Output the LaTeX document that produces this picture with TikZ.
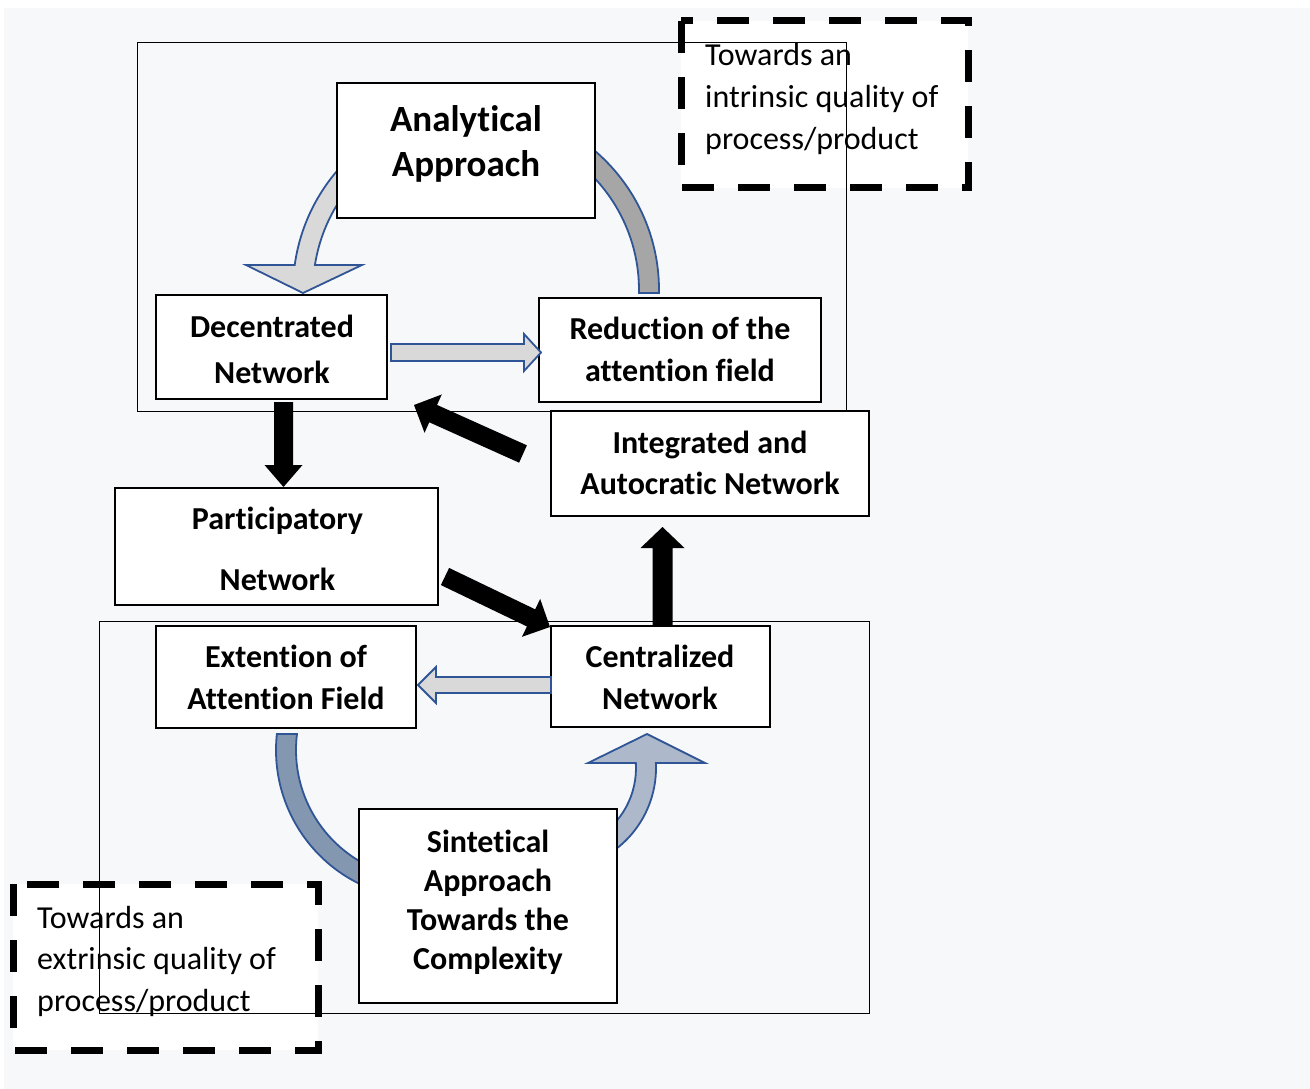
\documentclass[tikz,border=0pt]{standalone}
\usepackage{fontspec}
\setmainfont{Carlito}[Ligatures=NoCommon]
\usetikzlibrary{calc}

\definecolor{panel}{HTML}{F7F8FA}
\definecolor{ablue}{HTML}{2F5597}
\definecolor{lgray}{HTML}{D9D9D9}
\definecolor{mgray}{HTML}{A6A6A6}
\definecolor{slate}{HTML}{8497B0}
\definecolor{lslate}{HTML}{ADB9CA}

% straight block arrow: style, tail point, tip point, shaft half width, head half width, head length
\newcommand\blockarrow[6]{%
  \path[#1] let \p1=#2, \p2=#3,
      \n1={atan2(\y2-\y1,\x2-\x1)}, \n2={veclen(\x2-\x1,\y2-\y1)} in
    ($(\p1)+(\n1+90:#4)$) -- ++(\n1:\n2-#6) -- ++(\n1+90:#5-#4) -- (\p2)
    -- ($(\p1)+(\n1:\n2-#6)+(\n1-90:#5)$) -- ++(\n1+90:#5-#4)
    -- ($(\p1)+(\n1-90:#4)$) -- cycle;}

\begin{document}
\begin{tikzpicture}[x=1pt,y=1pt,
  box/.style={draw=black, line width=2pt, fill=white, inner sep=0pt},
  lbl/.style={align=center, inner sep=0pt, font=\bfseries\fontsize{32}{42}\selectfont},
  dtext/.style={align=left, inner sep=0pt, anchor=north west, font=\fontsize{32}{42}\selectfont},
  dashbox/.style={draw=black, fill=white, line width=7pt, dash pattern=on 32pt off 24pt},
  frame/.style={draw=black, line width=1pt},
  curved/.style={draw=ablue, line width=1.8pt, line join=miter},
  gblk/.style={fill=lgray, draw=ablue, line width=1.8pt, line join=miter},
  blk/.style={fill=black}]

% page and panel
\fill[white] (0,0) rectangle (1310,-1089);
\useasboundingbox (0,0) rectangle (1310,-1089);
\fill[panel] (4,-8) rectangle (1310,-1089);

% dashed quality boxes
\draw[dashbox] (681,-21) rectangle (968,-188);
\node[dtext] (intr) at (705,-43) {Towards an\\intrinsic quality of\\process/product};
\draw[dashbox] (13,-884) rectangle (318,-1050);
\node[dtext, font=\fontsize{32}{41.5}\selectfont] (extr) at (37,-906) {Towards an\\extrinsic quality of\\process/product};

% frames of the two cycles
\draw[frame] (137,-43) rectangle (846,-411);
\draw[frame] (99,-621) rectangle (869,-1013);

% centres of the curved arrows
\coordinate (ctop) at (476,-290);
\coordinate (cbl) at (425,-750);
\coordinate (cbr) at (554,-768);

% upper cycle curved arrows
\path[curved, fill=lgray] ($(ctop)+(130:183)$) arc[start angle=130, end angle=172.15, radius=183]
  -- (246,-265) -- (303,-293) -- (362,-265)
  -- ($(ctop)+(171.18:163)$) arc[start angle=171.18, end angle=130, radius=163] -- cycle;
\path[curved, fill=mgray] ($(ctop)+(60:183)$) arc[start angle=60, end angle=-0.94, radius=183]
  -- ($(ctop)+(-1.05:163)$) arc[start angle=-1.05, end angle=60, radius=163] -- cycle;

% lower cycle curved arrows
\path[curved, fill=slate] ($(cbl)+(255:149)$) arc[start angle=255, end angle=173.8, radius=149]
  -- ($(cbl)+(172.9:129)$) arc[start angle=172.9, end angle=255, radius=129] -- cycle;
\path[curved, fill=lslate] ($(cbr)+(-60:82)$) arc[start angle=-60, end angle=3.5, radius=82]
  -- (588,-763) -- (647,-734) -- (705,-763)
  -- ($(cbr)+(2.8:102)$) arc[start angle=2.8, end angle=-60, radius=102] -- cycle;

% boxes
\node[box, minimum width=258, minimum height=135] (an) at (466,-150.5) {};
\node[box, minimum width=231, minimum height=104] (dec) at (271.5,-347) {};
\node[box, minimum width=282, minimum height=104] (red) at (680,-350) {};
\node[box, minimum width=318, minimum height=105] (integ) at (710,-463.5) {};
\node[box, minimum width=323, minimum height=117] (part) at (276.5,-546.5) {};
\node[box, minimum width=260, minimum height=102] (ext) at (286,-677) {};
\node[box, minimum width=219, minimum height=101] (cent) at (660.5,-676.5) {};
\node[box, minimum width=258, minimum height=194] (sin) at (488,-906) {};

% box texts
\node[lbl, font=\bfseries\fontsize{37}{45}\selectfont] (anT) at (466,-144) {Analytical\\Approach};
\node[lbl, font=\bfseries\fontsize{32}{46}\selectfont] (decT) at (272,-349.8) {Decentrated\\Network};
\node[lbl] (redT) at (680,-349.5) {Reduction of the\\attention field};
\node[lbl, font=\bfseries\fontsize{32}{41}\selectfont] (integT) at (710,-463) {Integrated and\\Autocratic Network};
\node[lbl, font=\bfseries\fontsize{32}{61}\selectfont] (partT) at (277.5,-549) {Participatory\\Network};
\node[lbl] (extT) at (286,-677) {Extention of\\Attention Field};
\node[lbl] (centT) at (660,-677) {Centralized\\Network};
\node[lbl, font=\bfseries\fontsize{32}{39}\selectfont] (sinT) at (488,-902) {Sintetical\\Approach\\Towards the\\Complexity};

% straight arrows
\blockarrow{gblk}{([shift={(3,-5.5)}]dec.east)}{([shift={(3,-2.5)}]red.west)}{8.5}{18.5}{17}
\blockarrow{gblk}{([shift={(1,-8.5)}]cent.west)}{([shift={(1,-8)}]ext.east)}{8}{18}{18}
\blockarrow{blk}{([shift={(12,-2)}]dec.south)}{([xshift=7]part.north)}{9.5}{19}{22}
\blockarrow{blk}{([shift={(6,-30)}]part.east)}{([yshift=-2]cent.north west)}{9.5}{21}{21}
\blockarrow{blk}{([shift={(-27,9.5)}]integ.west)}{([shift={(26,-5)}]dec.south east)}{9.5}{21}{21}
\blockarrow{blk}{([xshift=2]cent.north)}{($(cent.north |- integ.south)+(2,-10)$)}{10}{22}{21}

\end{tikzpicture}
\end{document}
